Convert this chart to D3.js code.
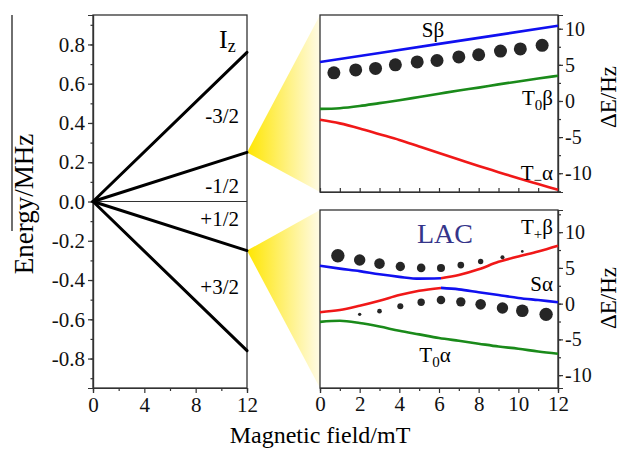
<!DOCTYPE html>
<html>
<head>
<meta charset="utf-8">
<script src="https://cdn.jsdelivr.net/npm/d3@7"></script>
<style>
  body { margin: 0; background: #fff; }
  svg { display: block; font-family: "Liberation Serif", "Times New Roman", serif; }
  .axis path, .axis line { stroke: #333; stroke-width: 1.2; }
</style>
</head>
<body>
<div class="chart"></div>
<script>
// ---- data ----
// left panel: nuclear Zeeman levels, energy at 12 mT
const izLabels = ['-3/2', '-1/2', '+1/2', '+3/2'];
const izEnergyAt12 = [0.76, 0.25, -0.25, -0.76];
const fieldTicksLeft = [0, 4, 8, 12];
const energyTicks = [-0.8, -0.6, -0.4, -0.2, 0.0, 0.2, 0.4, 0.6, 0.8];

// right panels: field grid (mT)
const fieldGrid = [0, 1, 2, 3, 4, 5, 6, 7, 8, 9, 10, 11, 12];
const fieldTicksRight = [0, 2, 4, 6, 8, 10, 12];
const dETicks = [-10, -5, 0, 5, 10];

// top right panel
const topSbetaX = [0, 6, 12];
const topSbeta = [5.4, 7.9, 10.4];
const topT0beta = [-1.1, -1.0, -0.7, -0.3, 0.1, 0.55, 1.0, 1.45, 1.85, 2.3, 2.7, 3.1, 3.5];
const topTmAlpha = [-2.6, -3.1, -3.8, -4.6, -5.4, -6.3, -7.2, -8.1, -9.0, -9.85, -10.7, -11.5, -12.3];
const topDotsX = [0.7, 1.8, 2.8, 3.8, 4.9, 5.9, 7.0, 8.0, 9.1, 10.1, 11.2];
const topDotsY = [3.9, 4.3, 4.5, 5.0, 5.4, 5.6, 6.1, 6.4, 6.9, 7.2, 7.7];
const topDotsI = [0.97, 0.97, 0.97, 0.97, 0.97, 0.97, 0.97, 0.97, 0.97, 0.97, 0.97];

// bottom right panel (LAC); branches switch colour at the anticrossing
const upLeftX = [0, 1, 2, 3, 4, 5, 6.1];
const upLeftY = [5.3, 4.9, 4.55, 4.1, 3.75, 3.5, 3.55];
const upRightX = [6.1, 7, 8, 9, 10, 11, 12];
const upRightY = [3.55, 4.0, 4.8, 5.85, 6.6, 7.3, 8.1];
const lowLeftX = [0, 1, 2, 3, 4, 5, 6.1];
const lowLeftY = [-1.2, -0.9, -0.3, 0.4, 1.2, 1.8, 2.2];
const lowRightX = [6.1, 7, 8, 9, 10, 11, 12];
const lowRightY = [2.2, 2.0, 1.6, 1.2, 0.8, 0.5, 0.2];
const botT0alpha = [-2.55, -2.4, -2.7, -3.2, -3.8, -4.3, -4.8, -5.2, -5.6, -6.0, -6.3, -6.7, -7.0];
const botDotsUpX = [0.9, 2.0, 3.0, 4.05, 5.1, 6.1, 7.1, 8.1, 9.2, 10.2];
const botDotsUpY = [6.7, 6.1, 5.6, 5.2, 5.0, 5.0, 5.4, 5.9, 6.5, 7.3];
const botDotsUpI = [1.0, 0.85, 0.79, 0.7, 0.64, 0.6, 0.5, 0.4, 0.3, 0.2];
const botDotsLowX = [2.0, 3.0, 4.05, 5.1, 6.1, 7.1, 8.1, 9.2, 10.2, 11.4];
const botDotsLowY = [-1.5, -1.05, -0.35, 0.2, 0.5, 0.25, -0.1, -0.6, -1.0, -1.5];
const botDotsLowI = [0.25, 0.35, 0.45, 0.55, 0.64, 0.7, 0.79, 0.85, 0.94, 1.0];

// ---- canvas ----
const W = 623, H = 449;
const FONT = '"Liberation Serif", "Times New Roman", serif';
const svg = d3.select('.chart').append('svg').attr('width', W).attr('height', H);

const BLUE = '#1010f0', GREEN = '#1a8a1a', RED = '#f01818', DOT = '#262626';

// scales
const xL = d3.scaleLinear().domain([0, 12]).range([93, 247]);
const yL = d3.scaleLinear().domain([-0.95, 0.95]).range([388, 15]);
const xR = d3.scaleLinear().domain([0, 12]).range([320, 558]);
const yT = d3.scaleLinear().domain([-12.6, 11.9]).range([192, 15]);
const yB = d3.scaleLinear().domain([-11.8, 13.1]).range([388, 210]);
const rScale = d3.scaleLinear().domain([0, 1]).range([0, 6.7]);

// yellow zoom wedges
const defs = svg.append('defs');
const grad = defs.append('linearGradient').attr('id', 'yel')
  .attr('gradientUnits', 'userSpaceOnUse')
  .attr('x1', xL(12)).attr('x2', xR(0)).attr('y1', 0).attr('y2', 0);
grad.append('stop').attr('offset', 0).attr('stop-color', '#ffe600');
grad.append('stop').attr('offset', 1).attr('stop-color', '#fffbe6');

function wedge(apexY, yScale) {
  const d = [[xL(12), yL(apexY)], [xR(0), yScale.range()[1]], [xR(0), yScale.range()[0]]];
  svg.append('path').attr('d', 'M' + d.join('L') + 'Z').attr('fill', 'url(#yel)');
}
wedge(izEnergyAt12[1], yT);
wedge(izEnergyAt12[2], yB);

// helper for minor ticks
const range = (a, b, s) => d3.range(a, b + s / 2, s).map(v => +v.toFixed(3));
// serif tick labels
const serif = size => g => g.attr('font-family', FONT)
  .selectAll('text').attr('font-size', size).attr('fill', '#111').style('font-family', FONT);

// ---- left panel ----
svg.append('g').attr('class', 'axis').attr('transform', `translate(${xL(0)},0)`)
  .call(d3.axisLeft(yL).tickValues(range(-0.9, 0.9, 0.1)).tickSize(2.5).tickFormat(''));
svg.append('g').attr('class', 'axis').attr('transform', `translate(${xL(0)},0)`)
  .call(d3.axisLeft(yL).tickValues(energyTicks).tickSize(5).tickPadding(3)
    .tickFormat(d => d.toFixed(1)))
  .call(serif('21px'));
svg.append('g').attr('class', 'axis').attr('transform', `translate(0,${yL(-0.95)})`)
  .call(d3.axisBottom(xL).tickValues([2, 6, 10]).tickSize(3).tickFormat(''));
svg.append('g').attr('class', 'axis').attr('transform', `translate(0,${yL(-0.95)})`)
  .call(d3.axisBottom(xL).tickValues(fieldTicksLeft).tickSize(5).tickPadding(4))
  .call(serif('21px'));

svg.append('rect').attr('x', xL(0)).attr('y', yL(0.95))
  .attr('width', xL(12) - xL(0)).attr('height', yL(-0.95) - yL(0.95))
  .attr('fill', 'none').attr('stroke', '#333').attr('stroke-width', 1.3);
svg.append('line').attr('x1', xL(0)).attr('x2', xL(12)).attr('y1', yL(0)).attr('y2', yL(0))
  .attr('stroke', '#333').attr('stroke-width', 1.2);

svg.selectAll('.iz').data(izEnergyAt12).enter().append('line').attr('class', 'iz')
  .attr('x1', xL(0)).attr('y1', yL(0)).attr('x2', xL(12)).attr('y2', d => yL(d))
  .attr('stroke', '#000').attr('stroke-width', 3).attr('stroke-linecap', 'round');

const izLabelY = [123, 193, 226, 294];
svg.selectAll('.izl').data(izLabels).enter().append('text').attr('class', 'izl')
  .attr('x', 239).attr('y', (d, i) => izLabelY[i]).attr('text-anchor', 'end')
  .attr('font-size', '21px').text(d => d);
const iz = svg.append('text').attr('x', 219).attr('y', 48).attr('font-size', '26px');
iz.append('tspan').text('I');
iz.append('tspan').attr('font-size', '18px').attr('dy', 4).text('z');

// ---- right panels ----
const lineGen = (xs, ys, yScale) => d3.line().curve(d3.curveMonotoneX)
  .x((d, i) => xR(xs[i])).y(d => yScale(d))(ys);

function rightAxes(yScale, top) {
  const [y0, y1] = yScale.domain();
  svg.append('g').attr('class', 'axis').attr('transform', `translate(${xR(12)},0)`)
    .call(d3.axisRight(yScale).tickValues(range(-12.5, 12.5, 2.5).filter(v => v >= y0 && v <= y1)).tickSize(3).tickFormat(''));
  svg.append('g').attr('class', 'axis').attr('transform', `translate(${xR(12)},0)`)
    .call(d3.axisRight(yScale).tickValues(dETicks).tickSize(5).tickPadding(2).tickFormat(d => String(d)))
    .call(serif('20px'));
  if (top) {
    svg.append('g').attr('class', 'axis').attr('transform', `translate(0,${yScale.range()[0]})`)
      .call(d3.axisTop(xR).tickValues(range(1, 11, 1)).tickSize(4).tickFormat(''));
  } else {
    svg.append('g').attr('class', 'axis').attr('transform', `translate(0,${yScale.range()[0]})`)
      .call(d3.axisBottom(xR).tickValues(range(1, 11, 2)).tickSize(3).tickFormat(''));
    svg.append('g').attr('class', 'axis').attr('transform', `translate(0,${yScale.range()[0]})`)
      .call(d3.axisBottom(xR).tickValues(fieldTicksRight).tickSize(5).tickPadding(3))
      .call(serif('21px'));
  }
  svg.append('rect').attr('x', xR(0)).attr('y', yScale.range()[1])
    .attr('width', xR(12) - xR(0)).attr('height', yScale.range()[0] - yScale.range()[1])
    .attr('fill', 'none').attr('stroke', '#333').attr('stroke-width', 1.3);
}
rightAxes(yT, true);
rightAxes(yB, false);

function curve(xs, ys, yScale, color) {
  svg.append('path').attr('d', lineGen(xs, ys, yScale))
    .attr('fill', 'none').attr('stroke', color).attr('stroke-width', 2.6);
}
function dots(xs, ys, is, yScale) {
  svg.append('g').selectAll('circle').data(xs).enter().append('circle')
    .attr('cx', d => xR(d)).attr('cy', (d, i) => yScale(ys[i])).attr('r', (d, i) => rScale(is[i]))
    .attr('fill', DOT);
}

// top
curve(topSbetaX, topSbeta, yT, BLUE);
curve(fieldGrid, topT0beta, yT, GREEN);
curve(fieldGrid, topTmAlpha, yT, RED);
dots(topDotsX, topDotsY, topDotsI, yT);

// bottom
curve(fieldGrid, botT0alpha, yB, GREEN);
curve(upLeftX, upLeftY, yB, BLUE);
curve(upRightX, upRightY, yB, RED);
curve(lowLeftX, lowLeftY, yB, RED);
curve(lowRightX, lowRightY, yB, BLUE);
dots(botDotsUpX, botDotsUpY, botDotsUpI, yB);
dots(botDotsLowX, botDotsLowY, botDotsLowI, yB);

// state labels
function label(x, y, main, sub, tail, anchor) {
  const t = svg.append('text').attr('x', x).attr('y', y).attr('font-size', '21px')
    .attr('text-anchor', anchor || 'start');
  t.append('tspan').text(main);
  if (sub) t.append('tspan').attr('font-size', '15px').attr('dy', 5).text(sub);
  if (tail) t.append('tspan').attr('dy', sub ? -5 : 0).text(tail);
}
label(433, 37, 'Sβ', null, null, 'middle');
label(553, 105, 'T', '0', 'β', 'end');
label(553, 180, 'T', '−', 'α', 'end');
label(553, 234, 'T', '+', 'β', 'end');
label(553, 291, 'Sα', null, null, 'end');
label(435, 362, 'T', '0', 'α', 'middle');
svg.append('text').attr('x', 445).attr('y', 243).attr('text-anchor', 'middle')
  .attr('font-size', '28px').attr('fill', '#35358a').text('LAC');

// axis titles
svg.append('text').attr('transform', 'translate(33,204) rotate(-90)')
  .attr('text-anchor', 'middle').attr('font-size', '27px').text('Energy/MHz');
svg.append('line').attr('x1', 12).attr('x2', 12).attr('y1', 15).attr('y2', 231)
  .attr('stroke', '#222').attr('stroke-width', 1.3);
svg.append('text').attr('x', 320).attr('y', 443).attr('text-anchor', 'middle')
  .attr('font-size', '24px').text('Magnetic field/mT');
[yT, yB].forEach((s, i) => {
  svg.append('text').attr('transform', `translate(616,${i ? 298 : 97}) rotate(-90)`)
    .attr('text-anchor', 'middle').attr('font-size', '23px').text('ΔE/Hz');
});
</script>
</body>
</html>
